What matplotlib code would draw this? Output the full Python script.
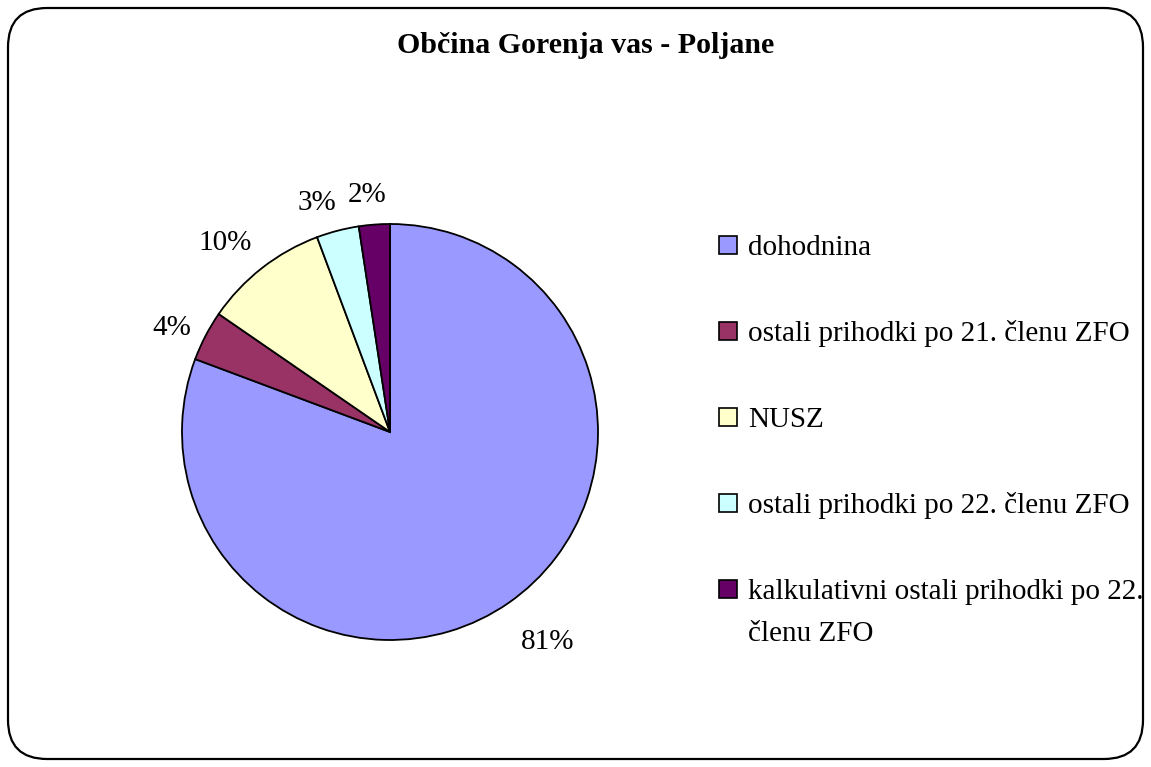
import numpy as np
import matplotlib.pyplot as plt
from matplotlib.patches import FancyBboxPatch, Rectangle

title = "Občina Gorenja vas - Poljane"
labels = ["dohodnina", "ostali prihodki po 21. členu ZFO", "NUSZ",
          "ostali prihodki po 22. členu ZFO",
          "kalkulativni ostali prihodki po 22.\nčlenu ZFO"]
shares = [80.7, 3.9, 9.7, 3.3, 2.4]
pct_labels = ["81%", "4%", "10%", "3%", "2%"]
colors = ["#9999FF", "#993366", "#FFFFCC", "#CCFFFF", "#660066"]

plt.rcParams['font.family'] = ['Liberation Serif', 'DejaVu Serif']

W, H = 1151, 767
fig = plt.figure(figsize=(W / 100, H / 100), dpi=100)

# rounded chart border
border = FancyBboxPatch((8 / W, 8 / H), (W - 16) / W, (H - 16) / H,
                        boxstyle="round,pad=0,rounding_size=0.034",
                        transform=fig.transFigure, fill=False,
                        edgecolor='black', linewidth=1.6,
                        mutation_aspect=W / H)
fig.add_artist(border)

fig.text(586 / W, 1 - 53 / H, title, ha='center', va='baseline',
         fontsize=21.5, fontweight='bold')

# pie axes: center (390, 432), radius 208 px
cx, cy, r = 390, 432, 208
ax = fig.add_axes([(cx - r) / W, 1 - (cy + r) / H, 2 * r / W, 2 * r / H])
wedges, _ = ax.pie(shares, colors=colors, startangle=90, counterclock=False,
                   wedgeprops=dict(edgecolor='black', linewidth=1.3))
ax.set_xlim(-1, 1)
ax.set_ylim(-1, 1)
ax.set_aspect('equal')

# label anchor = text baseline centre, d * radius out, slightly turned
label_dist = [1.29, 1.15, 1.18, 1.125, 1.11]
label_turn = [1.2, 3.5, 4.3, 3.7, 1.4]   # degrees, Excel puts them a bit ccw
for w, txt, d, t in zip(wedges, pct_labels, label_dist, label_turn):
    ang = np.deg2rad((w.theta1 + w.theta2) / 2 + t)
    ax.text(d * np.cos(ang), d * np.sin(ang), txt, ha='center',
            va='baseline', fontsize=21, clip_on=False)

# legend drawn by hand, Excel style
leg_y = [255, 341, 427, 513, 599]   # text baselines in px
line_step = 42
for lab, col, y in zip(labels, colors, leg_y):
    fig.add_artist(Rectangle((719 / W, 1 - (y - 1) / H), 18 / W, 18 / H,
                             transform=fig.transFigure, facecolor=col,
                             edgecolor='black', linewidth=1.2))
    for i, line in enumerate(lab.split("\n")):
        fig.text(748 / W, 1 - (y + i * line_step) / H, line, ha='left',
                 va='baseline', fontsize=21)

fig.savefig("out.png", dpi=100)
